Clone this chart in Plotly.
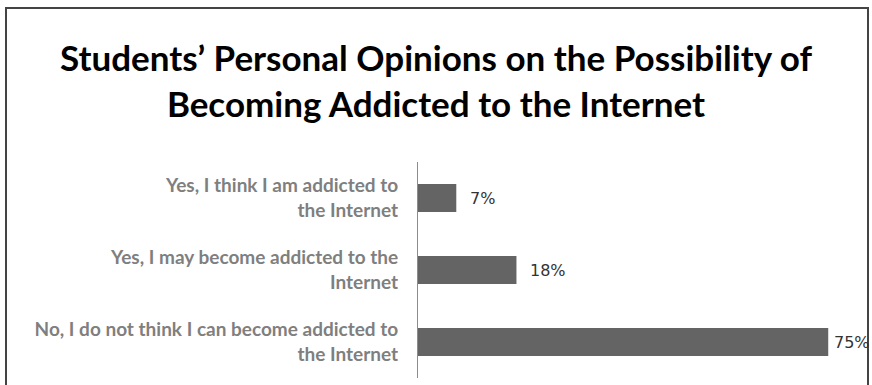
import plotly.graph_objects as go

# Survey answers (top to bottom) and their shares in percent
categories = [
    "Yes, I think I am addicted to<br>the Internet",
    "Yes, I may become addicted to the<br>Internet",
    "No, I do not think I can become addicted to<br>the Internet",
]
values = [7, 18, 75]
value_labels = ["7%", "18%", "75%"]

title_text = ("Students\u2019 Personal Opinions on the Possibility of<br>"
              "Becoming Addicted to the Internet")

fig = go.Figure(
    go.Bar(
        x=values,
        y=categories,
        orientation="h",
        width=0.39,
        marker=dict(color="#646464", line=dict(width=0)),
        hoverinfo="skip",
    )
)

# value labels to the right of each bar; the longest bar leaves little room
for cat, val, lab in zip(categories, values, value_labels):
    fig.add_annotation(
        x=val, y=cat, xref="x", yref="y",
        text=lab, showarrow=False,
        xanchor="left", yanchor="middle",
        xshift=4 if val == max(values) else 12,
        font=dict(family="DejaVu Sans", size=16, color="#333333"),
    )

fig.update_layout(
    width=872, height=385,
    margin=dict(l=418, r=0, t=162, b=7),
    paper_bgcolor="white", plot_bgcolor="white",
    showlegend=False,
    title=dict(
        text=title_text,
        x=0.5, xref="container", xanchor="center",
        y=1 - 71 / 385, yref="container", yanchor="middle",
        font=dict(family="Lato", size=35, color="#000000", weight="bold"),
    ),
    xaxis=dict(range=[0, 83], visible=False, fixedrange=True),
    yaxis=dict(
        categoryorder="array", categoryarray=categories,
        autorange="reversed",
        showline=True, linecolor="#8c8c8c", linewidth=1,
        showgrid=False, zeroline=False, ticks="",
        ticklabelstandoff=15,
        tickfont=dict(family="Lato", size=19, color="#7f7f7f", weight="bold"),
        fixedrange=True,
    ),
)

# outer frame around the chart
fig.add_shape(
    type="rect", xref="paper", yref="paper",
    x0=-412 / 454, x1=450 / 454, y0=-0.2, y1=1 + 154 / 216,
    line=dict(color="#444444", width=2), fillcolor="rgba(0,0,0,0)",
    layer="below",
)

fig.write_html("out.html")
